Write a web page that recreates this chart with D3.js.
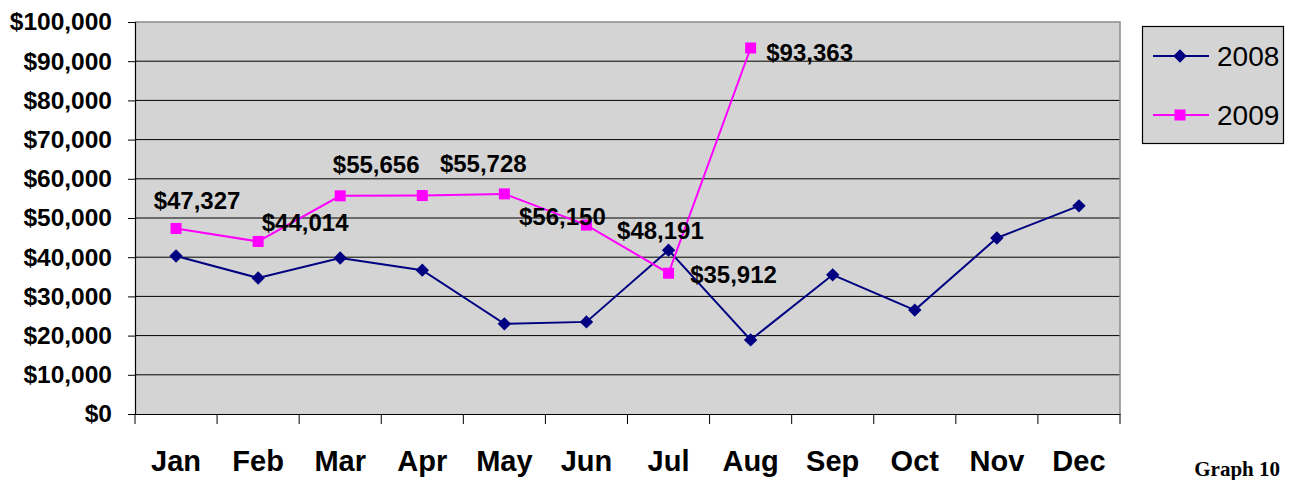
<!DOCTYPE html>
<html><head><meta charset="utf-8">
<script src="https://cdn.jsdelivr.net/npm/d3@7"></script>
<style>body{margin:0;background:#fff}svg{display:block}</style>
</head><body>
<svg id="c" width="1294" height="480"></svg>
<script>
const months = ["Jan","Feb","Mar","Apr","May","Jun","Jul","Aug","Sep","Oct","Nov","Dec"];
const values2008 = [40300,34700,39800,36700,23000,23500,41800,18900,35500,26500,44900,53100];
const values2009 = [47327,44014,55656,55728,56150,48191,35912,93363];
const labels2009 = ["$47,327","$44,014","$55,656","$55,728","$56,150","$48,191","$35,912","$93,363"];
const yTicks = [0,10000,20000,30000,40000,50000,60000,70000,80000,90000,100000];
const seriesNames = ["2008","2009"];
// label offsets (dx, dy) relative to each 2009 point, as placed in the original
const labelOffsets = [[21,-28],[47,-19],[36,-31],[61,-32],[58,23],[74,5],[65,1],[59,4]];

const svg = d3.select("#c");
const L=135,R=1120,T=22,B=414;
const x = d3.scaleBand().domain(months).range([L,R]);
const y = d3.scaleLinear().domain([0,100000]).range([B,T]);
const FONT = "Liberation Sans, Arial, sans-serif";

svg.append("rect").attr("x",L).attr("y",T).attr("width",R-L).attr("height",B-T).attr("fill","#d4d4d4");
svg.append("g").selectAll("line").data(yTicks.filter(d=>d>0&&d<100000)).join("line")
  .attr("x1",L).attr("x2",R).attr("y1",d=>y(d)).attr("y2",d=>y(d)).attr("stroke","#000").attr("stroke-width",1);
svg.append("path").attr("d",`M${L},${T}H${R}V${B}`).attr("fill","none").attr("stroke","#8c8c8c").attr("stroke-width",1.5);

const fmt = d=>"$"+d3.format(",")(d);
const ya = svg.append("g").attr("transform",`translate(${L},0)`)
  .call(d3.axisLeft(y).tickValues(yTicks).tickFormat(fmt).tickSize(7).tickPadding(16));
ya.select(".domain").attr("stroke","#000").attr("stroke-width",1.2);
ya.selectAll("line").attr("stroke","#000");
ya.selectAll("text").attr("font-family",FONT).attr("font-weight","bold").attr("font-size","24.5px").attr("fill","#000");

const xa = svg.append("g").attr("transform",`translate(0,${B})`)
  .call(d3.axisBottom(x).tickSize(0).tickPadding(36));
xa.select(".domain").attr("stroke","#000").attr("stroke-width",1.2);
xa.selectAll("text").attr("font-family",FONT).attr("font-weight","bold").attr("font-size","29px").attr("fill","#000");
const bounds = months.map(m=>x(m)).concat([R]);
svg.append("g").selectAll("line").data(bounds).join("line")
  .attr("x1",d=>d).attr("x2",d=>d).attr("y1",B).attr("y2",B+10).attr("stroke","#000");

const cx = m=>x(m)+x.bandwidth()/2;
const line = d3.line().x((d,i)=>cx(months[i])).y(d=>y(d));
svg.append("path").datum(values2008).attr("d",line).attr("fill","none").attr("stroke","#000080").attr("stroke-width",2);
svg.append("path").datum(values2009).attr("d",line).attr("fill","none").attr("stroke","#ff00ff").attr("stroke-width",2);

const dia = d3.symbol().type(d3.symbolSquare).size(90);
svg.append("g").selectAll("path").data(values2008).join("path")
  .attr("transform",(d,i)=>`translate(${cx(months[i])},${y(d)}) rotate(45)`)
  .attr("d",dia).attr("fill","#000080");
svg.append("g").selectAll("rect").data(values2009).join("rect")
  .attr("x",(d,i)=>cx(months[i])-5.5).attr("y",d=>y(d)-5.5).attr("width",11).attr("height",11).attr("fill","#ff00ff");

svg.append("g").selectAll("text").data(values2009).join("text")
  .attr("x",(d,i)=>cx(months[i])+labelOffsets[i][0]).attr("y",(d,i)=>y(d)+labelOffsets[i][1])
  .attr("text-anchor","middle").attr("dominant-baseline","central")
  .attr("font-family",FONT).attr("font-weight","bold").attr("font-size","24px").attr("fill","#000")
  .text((d,i)=>labels2009[i]);

const lg = svg.append("g");
lg.append("rect").attr("x",1142.5).attr("y",26.5).attr("width",141).attr("height",117).attr("fill","#d4d4d4").attr("stroke","#000").attr("stroke-width",1.2);
const colors=["#000080","#ff00ff"];
seriesNames.forEach((s,i)=>{
  const yy = 56 + i*59;
  lg.append("line").attr("x1",1153).attr("x2",1209).attr("y1",yy).attr("y2",yy).attr("stroke",colors[i]).attr("stroke-width",2);
  if(i===0) lg.append("path").attr("transform",`translate(1180,${yy}) rotate(45)`).attr("d",dia).attr("fill",colors[i]);
  else lg.append("rect").attr("x",1174.5).attr("y",yy-5.5).attr("width",11).attr("height",11).attr("fill",colors[i]);
  lg.append("text").attr("x",1217).attr("y",yy).attr("dominant-baseline","central")
    .attr("font-family",FONT).attr("font-size","28px").attr("fill","#000").text(s);
});

svg.append("text").attr("x",1280).attr("y",476).attr("text-anchor","end")
  .attr("font-family","Liberation Serif, Times New Roman, serif").attr("font-weight","bold").attr("font-size","21px").text("Graph 10");
</script>
</body></html>
